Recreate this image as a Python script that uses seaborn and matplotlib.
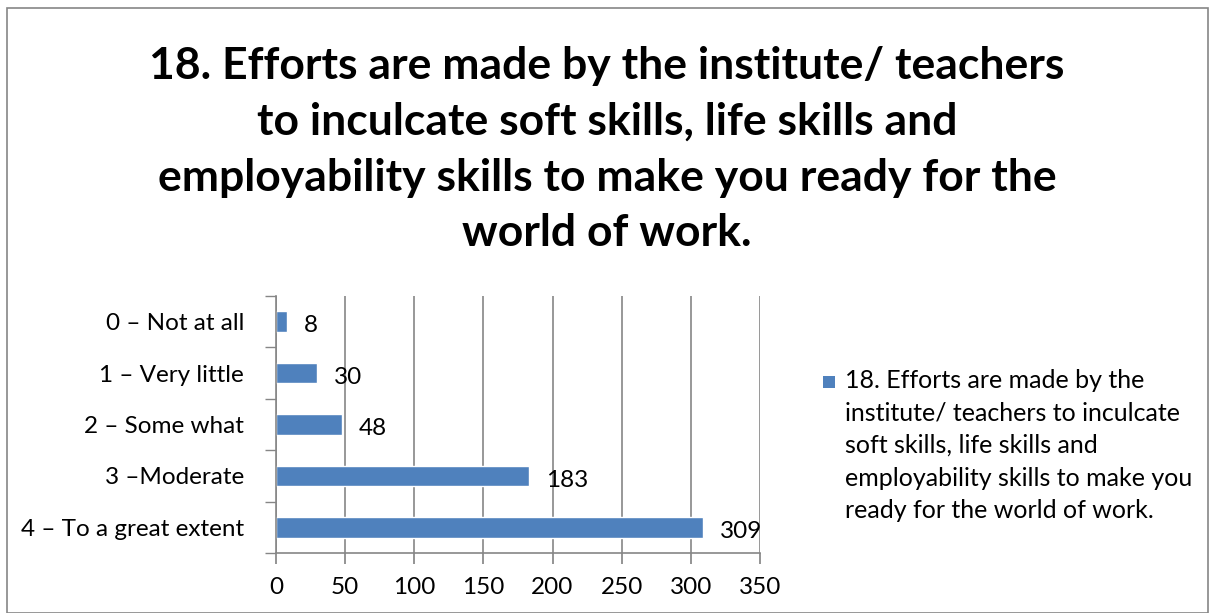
import pandas as pd
import matplotlib.pyplot as plt
import seaborn as sns
from matplotlib.patches import Rectangle

sns.set_theme(style="white")
plt.rcParams['font.family'] = ['Lato', 'DejaVu Sans']
plt.rcParams['text.color'] = 'black'
plt.rcParams['xtick.color'] = 'black'
plt.rcParams['ytick.color'] = 'black'

# dados do gráfico
categorias = ['0 – Not at all', '1 – Very little', '2 – Some what',
              '3 –Moderate', '4 – To a great extent']
respostas = [8, 30, 48, 183, 309]
ticks_x = [0, 50, 100, 150, 200, 250, 300, 350]
titulo = ('18. Efforts are made by the institute/ teachers\n'
          'to inculcate soft skills, life skills and\n'
          'employability skills to make you ready for the\n'
          'world of work.')
legenda = ('18. Efforts are made by the\n'
           'institute/ teachers to inculcate\n'
           'soft skills, life skills and\n'
           'employability skills to make you\n'
           'ready for the world of work.')

df = pd.DataFrame({'Categoria': categorias, 'Respostas': respostas})
azul = '#4F81BD'
cinza = '#868686'

fig = plt.figure(figsize=(12.14, 6.13), dpi=100)
ax = fig.add_axes([0.2273, 0.098, 0.3987, 0.419])

sns.barplot(data=df, x='Respostas', y='Categoria', orient='h', color=azul,
            width=0.4, saturation=1, ax=ax)

ax.set_xlim(0, 350)
ax.set_ylim(4.5, -0.5)
ax.set_xticks(ticks_x)
ax.set_xticklabels([str(t) for t in ticks_x], fontsize=17.5)
ax.set_xlabel('')
ax.set_ylabel('')
ax.tick_params(axis='y', labelsize=17.5, length=0, pad=23)
ax.tick_params(axis='x', length=8, color=cinza, direction='out', pad=9, bottom=True)
ax.grid(axis='x', color=cinza, linewidth=1.2)
ax.set_axisbelow(True)

# marcas do eixo y entre categorias
ax.set_yticks([i + 0.5 for i in range(-1, 5)], minor=True)
ax.tick_params(axis='y', which='minor', length=8, color=cinza, left=True)

for lado in ['top', 'right']:
    ax.spines[lado].set_visible(False)
for lado in ['left', 'bottom']:
    ax.spines[lado].set_color(cinza)
    ax.spines[lado].set_linewidth(1.2)

for i, v in enumerate(respostas):
    ax.annotate(str(v), (v, i), xytext=(12, -3), textcoords='offset points',
                ha='left', va='center', fontsize=17.5, color='black')

fig.text(0.5, 0.925, titulo, ha='center', va='top', fontsize=32,
         fontweight='bold', linespacing=1.48)

fig.patches.append(Rectangle((0.678, 0.367), 0.0099, 0.0196, transform=fig.transFigure,
                             facecolor=azul, edgecolor='none'))
fig.text(0.696, 0.398, legenda, ha='left', va='top', fontsize=18, linespacing=1.5)

fig.patches.append(Rectangle((0.006, 0.0), 0.989, 0.987, transform=fig.transFigure,
                             facecolor='none', edgecolor=cinza, linewidth=1.2))

plt.savefig('out.png', dpi=100)
